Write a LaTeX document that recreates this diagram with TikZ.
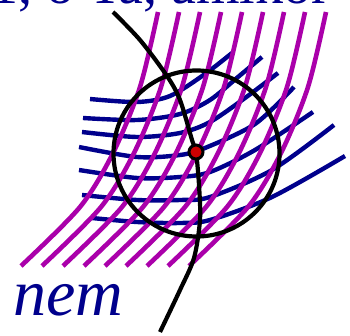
\documentclass[tikz,border=0pt]{standalone}
\usepackage{fontspec}
\setmainfont{Liberation Serif}
\definecolor{mag}{RGB}{170,0,170}
\definecolor{navyb}{RGB}{0,0,140}
\definecolor{dotred}{RGB}{204,0,0}
\begin{document}
\begin{tikzpicture}[x=1pt,y=-1pt,
  magline/.style={mag, line width=4.6pt},
  blueline/.style={navyb, line width=4.4pt},
  blackline/.style={black, line width=4.2pt},
  bigtext/.style={inner sep=0pt, text=navyb, font=\fontsize{56}{56}\selectfont}]
\useasboundingbox (0,0) rectangle (350,336);
\clip (0,0) rectangle (350,336);
% top text (mostly cut off)
\node[bigtext, anchor=base east] (top) at (330,4) {1, ő Ta, amikor};
% bottom text
\node[bigtext, anchor=base west, font=\fontsize{66}{66}\selectfont\itshape] (nem) at (13,315) {nem};
% blue curves
\draw[blueline] plot[smooth] coordinates {(90,99) (137,102) (170,96) (205,74) (232,53)};
\draw[blueline] plot[smooth] coordinates {(83,118) (137,120) (180,114) (210,100) (238,77) (262,57)};
\draw[blueline] plot[smooth] coordinates {(82,132) (137,137) (180,133) (210,122) (245,98) (278,73)};
\draw[blueline] plot[smooth] coordinates {(79,147) (137,157) (180,155) (205,148) (255,124) (294,87)};
\draw[blueline] plot[smooth] coordinates {(79,170) (137,178) (180,177) (210,172) (255,150) (313,112)};
\draw[blueline] plot[smooth] coordinates {(82,195) (137,200) (180,200) (210,197) (272,170) (334,125)};
\draw[blueline] plot[smooth] coordinates {(92,218) (137,222) (180,223) (210,220) (272,197) (345,156)};
% magenta curves
\foreach \k in {0,...,8} {
  \draw[magline, shift={(21*\k,0)}] plot[smooth] coordinates {(21,266) (80,207) (113,153) (140,87) (158,12)};
}
% black curve
\draw[blackline] plot[smooth] coordinates {(113,12) (140,40) (167,76) (180,100) (192,140) (196,152) (199,185) (200,220) (194,258) (180,290) (160,332)};
% circle
\node[draw=black, line width=4.2pt, circle, minimum size=166pt, inner sep=0pt] (ring) at (196.5,153.5) {};
% dot
\node[draw=black, fill=dotred, line width=3pt, circle, minimum size=14pt, inner sep=0pt] (dot) at (196,152) {};
\end{tikzpicture}
\end{document}
